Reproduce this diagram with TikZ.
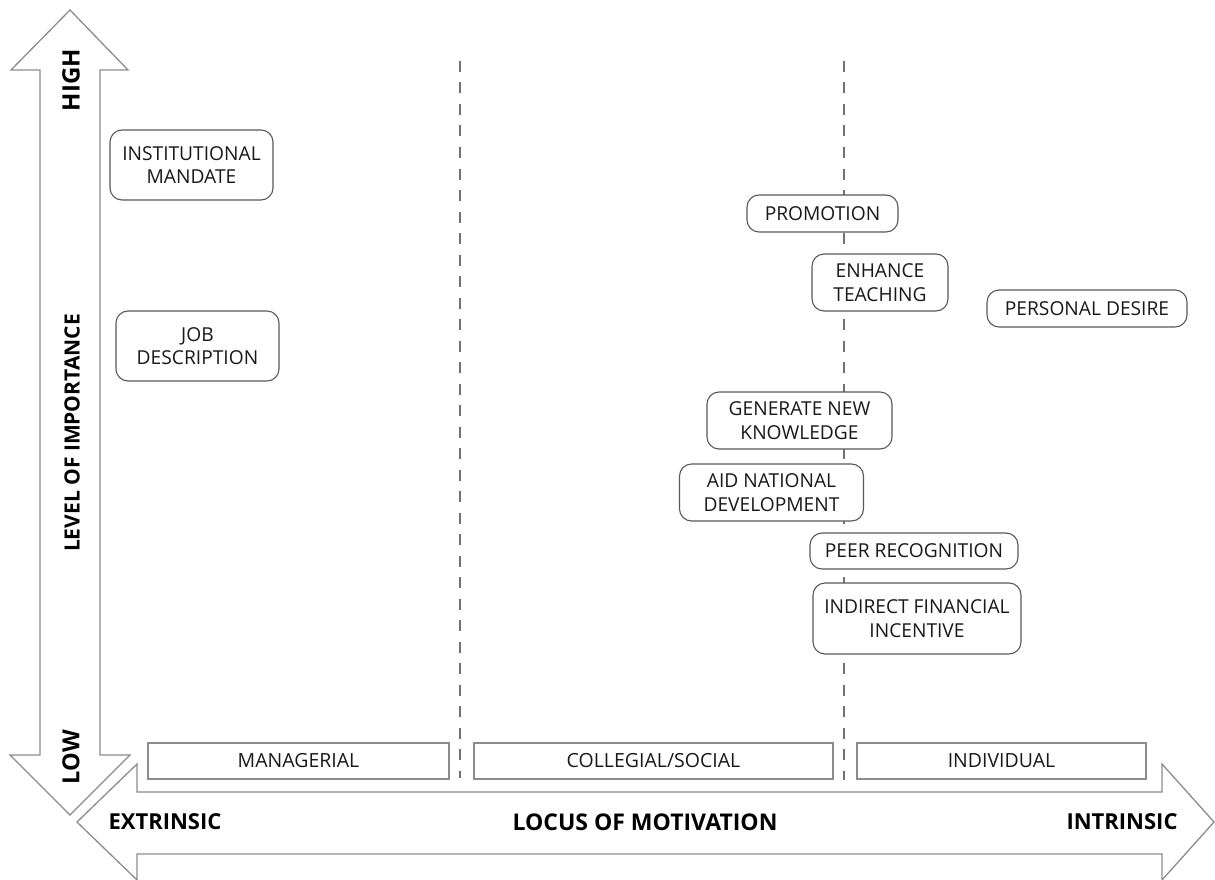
\documentclass[tikz,border=0pt]{standalone}
\usepackage{fontspec}
\setmainfont{Open Sans}
\begin{document}
\begin{tikzpicture}[x=1pt,y=-1pt,
  arrowshape/.style={draw=black!45,line width=1.3pt,fill=white,line join=miter},
  axislabel/.style={font=\fontsize{22}{26}\selectfont\bfseries,text=black},
  divider/.style={draw=black!55,line width=2.3pt,dash pattern=on 11pt off 10.5pt},
  factor/.style={draw=black!65,line width=1.1pt,fill=white,rounded corners=12pt,
    align=center,inner sep=2pt,font=\fontsize{19.2}{23.3}\selectfont,text=black!90},
  category/.style={draw=black!45,line width=1.4pt,fill=white,minimum height=36pt,
    inner sep=0pt,font=\fontsize{19.5}{23}\selectfont,text=black!90}]
\useasboundingbox (0,0) rectangle (1215,880);

% vertical double arrow: level of importance
\draw[arrowshape] (70,10) -- (128,70) -- (100,70) -- (100,755) -- (130,755) -- (70,815)
  -- (10,755) -- (40,755) -- (40,70) -- (11,70) -- cycle;
% horizontal double arrow: locus of motivation
\draw[arrowshape] (77,822) -- (137,764) -- (137,792) -- (1162,792) -- (1162,764) -- (1214,822)
  -- (1162,880) -- (1162,854) -- (137,854) -- (137,880) -- cycle;

\node[axislabel,rotate=90,font=\fontsize{24}{28}\selectfont\bfseries] (high) at (71,80) {HIGH};
\node[axislabel,rotate=90,font=\fontsize{23.5}{28}\selectfont\bfseries] (low) at (71,757) {LOW};
\node[axislabel,rotate=90,font=\fontsize{21}{25}\selectfont\bfseries] (level) at (72,433) {LEVEL OF IMPORTANCE};
\node[axislabel] (extr) at (165,822) {EXTRINSIC};
\node[axislabel,font=\fontsize{23}{27}\selectfont\bfseries] (locus) at (645,822) {LOCUS OF MOTIVATION};
\node[axislabel] (intr) at (1122,822) {INTRINSIC};

% dashed dividers between the three loci
\coordinate (d1top) at (460,61);
\coordinate (d1bot) at (460,778);
\coordinate (d2top) at (844,61);
\coordinate (d2bot) at (844,780);
\draw[divider] (d1top) -- (d1bot);
\draw[divider] (d2top) -- (d2bot);

% loci
\node[category,minimum width=301pt] (mgr) at (298.5,761) {MANAGERIAL};
\node[category,minimum width=359pt] (col) at (653.5,761) {COLLEGIAL/SOCIAL};
\node[category,minimum width=289pt] (ind) at (1001.5,761) {INDIVIDUAL};

% motivating factors
\node[factor,minimum width=163pt,minimum height=70pt] (inst) at (191.5,165) {INSTITUTIONAL\\MANDATE};
\node[factor,minimum width=163pt,minimum height=70pt] (job) at (197.5,346) {JOB\\DESCRIPTION};
\node[factor,minimum width=151pt,minimum height=37pt] (promo) at (822.5,213.5) {PROMOTION};
\node[factor,minimum width=136pt,minimum height=57pt] (teach) at (880,282.5) {ENHANCE\\TEACHING};
\node[factor,minimum width=200pt,minimum height=37pt] (desire) at (1087,308.5) {PERSONAL DESIRE};
\node[factor,minimum width=185pt,minimum height=57pt] (know) at (799.5,420.5) {GENERATE NEW\\KNOWLEDGE};
\node[factor,minimum width=184pt,minimum height=57pt] (nat) at (771.5,492.5) {AID NATIONAL\\DEVELOPMENT};
\node[factor,minimum width=208pt,minimum height=36pt] (peer) at (914,551) {PEER RECOGNITION};
\node[factor,minimum width=208pt,minimum height=71pt] (fin) at (917,618.5) {INDIRECT FINANCIAL\\INCENTIVE};
\end{tikzpicture}
\end{document}
